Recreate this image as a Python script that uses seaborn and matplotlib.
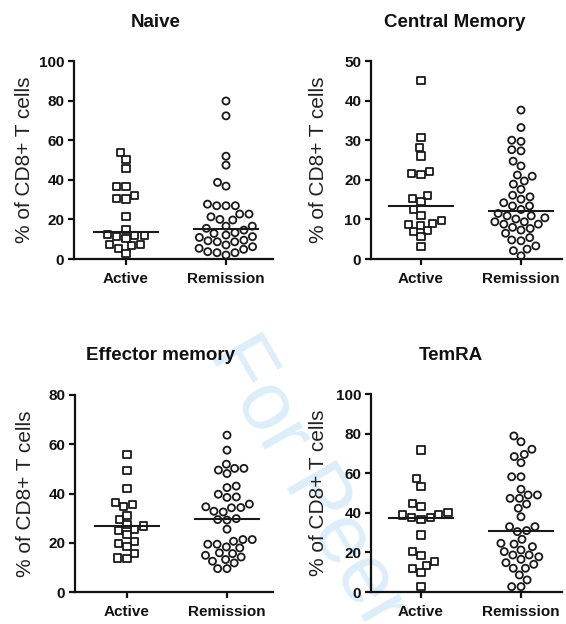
import numpy as np
import pandas as pd
import matplotlib
matplotlib.use("Agg")
import matplotlib.pyplot as plt
import seaborn as sns

# ---- data -------------------------------------------------------------
groups = ["Active", "Remission"]
panel_titles = ["Naive", "Central Memory", "Effector memory", "TemRA"]
y_max = [100, 50, 80, 100]
y_step = [20, 10, 20, 20]
y_label = "% of CD8+ T cells"

naive_active = [53.8, 50.3, 45.7, 36.8, 36.5, 31.9, 30.6, 30.3, 21.3, 15.0,
                12.6, 12.1, 11.8, 11.5, 10.4, 7.3, 7.1, 6.6, 5.5, 2.9]
naive_remission = [79.8, 72.3, 51.9, 47.4, 38.7, 36.8, 27.7, 26.9, 26.9, 26.9,
                   22.7, 22.7, 21.3, 20.0, 19.7, 16.6, 16.6, 15.5, 14.6, 13.3,
                   12.9, 12.1, 11.3, 10.9, 9.5, 9.2, 8.7, 8.7, 7.1, 6.2,
                   5.4, 4.9, 3.7, 3.2, 3.2, 2.0]

cm_active = [45.0, 30.6, 28.2, 26.0, 22.2, 21.6, 21.4, 16.1, 15.3, 14.5,
             12.4, 11.1, 9.8, 9.0, 8.8, 8.4, 7.1, 6.9, 5.6, 3.1]
cm_remission = [37.6, 33.2, 30.0, 29.7, 27.6, 27.3, 24.7, 23.5, 21.2, 20.9,
                19.7, 18.9, 17.6, 16.1, 15.7, 15.1, 14.2, 13.4, 13.4, 12.5,
                11.5, 10.9, 10.9, 10.4, 10.1, 9.4, 9.4, 8.8, 8.8, 8.0,
                7.7, 7.3, 6.5, 5.4, 4.8, 4.6, 3.3, 2.5, 2.1, 0.8]

em_active = [56.0, 49.5, 42.0, 36.3, 35.7, 34.6, 31.2, 29.4, 27.5, 26.8,
             25.5, 25.1, 23.5, 20.6, 19.7, 18.6, 15.6, 13.8, 13.6]
em_remission = [63.7, 57.6, 51.9, 50.2, 50.2, 49.5, 48.1, 43.0, 42.4, 39.7,
                38.6, 38.4, 35.7, 34.6, 34.3, 34.2, 32.8, 32.5, 29.8, 29.4,
                29.2, 25.5, 21.3, 21.3, 20.6, 19.4, 19.4, 18.3, 17.9, 15.9,
                15.6, 14.9, 14.2, 13.2, 12.5, 11.8, 9.5, 9.5]

temra_active = [71.7, 57.4, 53.5, 44.8, 43.4, 40.1, 39.2, 38.9, 37.7, 37.6,
                36.7, 28.8, 20.4, 18.4, 15.3, 13.6, 12.0, 9.9, 3.0]
temra_remission = [78.8, 75.9, 72.1, 69.5, 68.4, 65.3, 58.2, 58.2, 51.9, 49.0,
                   49.0, 47.3, 47.3, 44.4, 42.3, 38.0, 33.0, 33.0, 31.0, 30.5,
                   26.6, 24.6, 24.2, 22.9, 21.2, 20.4, 18.7, 18.7, 17.8, 16.5,
                   14.8, 14.0, 12.0, 12.0, 8.6, 6.1, 2.7, 2.7]

panel_data = [
    (naive_active, naive_remission),
    (cm_active, cm_remission),
    (em_active, em_remission),
    (temra_active, temra_remission),
]
group_markers = {"Active": "s", "Remission": "o"}

# ---- style ------------------------------------------------------------
sns.set_theme(style="ticks")
plt.rcParams["font.family"] = ["Liberation Sans", "DejaVu Sans"]

W, H = 566, 624
fig = plt.figure(figsize=(W / 100, H / 100), dpi=100)
fig.patch.set_facecolor("white")

# axes boxes in pixels: left, top, right, bottom
boxes = [(74, 61, 273, 259), (371, 61, 562, 259),
         (75, 395, 273, 592), (371, 394, 562, 592)]
xlims = [(-0.52, 1.47), (-0.5, 1.41), (-0.52, 1.46), (-0.5, 1.41)]
title_x = [0.41, 0.44, 0.43, 0.42]
ylabel_x = [-0.20, -0.225, -0.20, -0.225]

for k, (title, (act, rem)) in enumerate(zip(panel_titles, panel_data)):
    l, t, r, b = boxes[k]
    ax = fig.add_axes([l / W, 1 - b / H, (r - l) / W, (b - t) / H])
    ax.patch.set_visible(False)

    df = pd.DataFrame({
        "group": ["Active"] * len(act) + ["Remission"] * len(rem),
        "value": list(act) + list(rem),
    })
    for g in groups:
        sns.swarmplot(data=df[df["group"] == g], x="group", y="value",
                      order=groups, marker=group_markers[g], size=5.1,
                      color="black", ax=ax, warn_thresh=1.0)
    for coll in ax.collections:
        if len(coll.get_offsets()) == 0:
            # empty placeholder collection for the other category
            coll.set_visible(False)
            continue
        coll.set_facecolor("none")
        coll.set_edgecolor("#1a1a1a")
        coll.set_linewidth(1.3)
        coll.set_clip_on(False)

    # median bars
    for i, g in enumerate(groups):
        med = np.median(df.loc[df["group"] == g, "value"])
        ax.plot([i - 0.33, i + 0.33], [med, med], color="#1a1a1a", lw=1.5,
                solid_capstyle="butt", zorder=3)

    ax.set_xlim(*xlims[k])
    ax.set_ylim(0, y_max[k])
    ax.set_yticks(np.arange(0, y_max[k] + 1, y_step[k]))
    ax.set_xticks([0, 1])
    ax.set_xticklabels(groups)
    ax.set_xlabel("")
    ax.set_ylabel(y_label, fontsize=15, color="#222222")
    ax.yaxis.set_label_coords(ylabel_x[k], 0.5)

    for s in ["top", "right"]:
        ax.spines[s].set_visible(False)
    for s in ["left", "bottom"]:
        ax.spines[s].set_linewidth(1.6)
        ax.spines[s].set_color("#111111")
    ax.tick_params(axis="both", length=4.5, width=1.6, color="#111111",
                   labelcolor="#111111", labelsize=11, pad=2.5)
    ax.tick_params(axis="x", pad=5)
    for lab in ax.get_xticklabels() + ax.get_yticklabels():
        lab.set_fontweight("bold")

    ax.text(title_x[k], 1 + 39 / (b - t), title, transform=ax.transAxes,
            ha="center", va="center", fontsize=13.5, fontweight="bold",
            color="#111111")

# faint diagonal watermark
fig.text(228 / W, 1 - 342 / H, "For Peer Review", rotation=-60,
         rotation_mode="anchor", ha="left", va="center", fontsize=60,
         color="#dceefa", zorder=-1)

fig.savefig("out.png", dpi=100, facecolor="white")
